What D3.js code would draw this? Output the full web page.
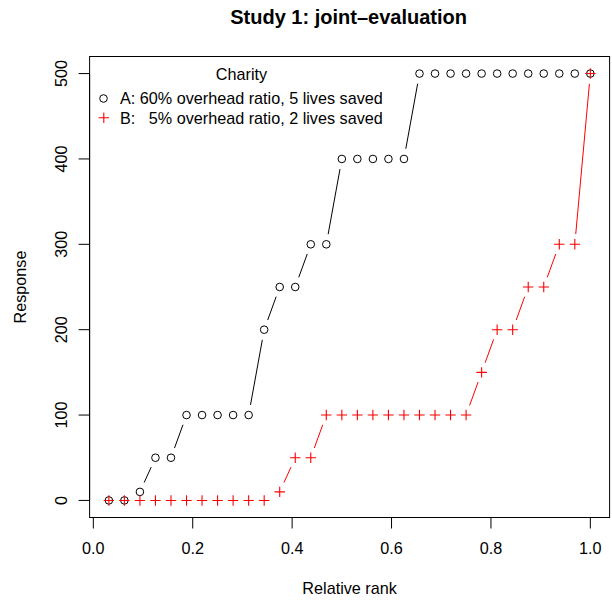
<!DOCTYPE html>
<html>
<head>
<meta charset="utf-8">
<script src="https://cdn.jsdelivr.net/npm/d3@7"></script>
<style>
  html, body { margin: 0; padding: 0; background: #fff; }
  text { font-family: "Liberation Sans", Arial, Helvetica, sans-serif; }
</style>
</head>
<body>
<svg id="chart" width="612" height="600"></svg>
<script>
// ---- data ----
const relativeRank = [0.03125, 0.0625, 0.09375, 0.125, 0.15625, 0.1875, 0.21875, 0.25,
  0.28125, 0.3125, 0.34375, 0.375, 0.40625, 0.4375, 0.46875, 0.5,
  0.53125, 0.5625, 0.59375, 0.625, 0.65625, 0.6875, 0.71875, 0.75,
  0.78125, 0.8125, 0.84375, 0.875, 0.90625, 0.9375, 0.96875, 1.0];
const responseA = [0, 0, 10, 50, 50, 100, 100, 100, 100, 100,
  200, 250, 250, 300, 300, 400, 400, 400, 400, 400,
  500, 500, 500, 500, 500, 500, 500, 500, 500, 500, 500, 500];
const responseB = [0, 0, 0, 0, 0, 0, 0, 0, 0, 0,
  0, 10, 50, 50, 100, 100, 100, 100, 100, 100,
  100, 100, 100, 100, 150, 200, 200, 250, 250, 300, 300, 500];
const xTicks = [0.0, 0.2, 0.4, 0.6, 0.8, 1.0];
const xTickLabels = ["0.0", "0.2", "0.4", "0.6", "0.8", "1.0"];
const yTicks = [0, 100, 200, 300, 400, 500];
const yTickLabels = ["0", "100", "200", "300", "400", "500"];
const legendTitle = "Charity";
const legendLabels = ["A: 60% overhead ratio, 5 lives saved", "B:   5% overhead ratio, 2 lives saved"];
const titleText = "Study 1: joint\u2013evaluation";
const xLabel = "Relative rank";
const yLabel = "Response";

// ---- layout ----
const svg = d3.select("#chart");
const L = 89.6, R = 609.6, T = 56.5, B = 517.5;
const x = d3.scaleLinear().domain([-0.0075, 1.03875]).range([L, R]);
const y = d3.scaleLinear().domain([-20, 520]).range([B, T]);
const fs = 16.2;

// title
svg.append("text").attr("x", (L + R) / 2 - 1).attr("y", 24)
  .attr("text-anchor", "middle").attr("font-size", 20).attr("font-weight", "bold")
  .text(titleText);

// box
svg.append("rect").attr("x", L).attr("y", T).attr("width", R - L).attr("height", B - T)
  .attr("fill", "none").attr("stroke", "#000").attr("stroke-width", 1);

// x axis
const xAxis = svg.append("g");
xAxis.append("line").attr("x1", x(0)).attr("x2", x(1)).attr("y1", B).attr("y2", B)
  .attr("stroke", "#000");
xTicks.forEach((t, i) => {
  xAxis.append("line").attr("x1", x(t)).attr("x2", x(t)).attr("y1", B).attr("y2", B + 11)
    .attr("stroke", "#000");
  xAxis.append("text").attr("x", x(t)).attr("y", 554).attr("text-anchor", "middle")
    .attr("font-size", fs).text(xTickLabels[i]);
});
svg.append("text").attr("x", (L + R) / 2).attr("y", 594).attr("text-anchor", "middle")
  .attr("font-size", fs).text(xLabel);

// y axis
const yAxis = svg.append("g");
yAxis.append("line").attr("x1", L).attr("x2", L).attr("y1", y(0)).attr("y2", y(500))
  .attr("stroke", "#000");
yTicks.forEach((t, i) => {
  yAxis.append("line").attr("x1", L).attr("x2", L - 11).attr("y1", y(t)).attr("y2", y(t))
    .attr("stroke", "#000");
  yAxis.append("text").attr("transform", `translate(66.5,${y(t)}) rotate(-90)`)
    .attr("text-anchor", "middle").attr("font-size", fs).text(yTickLabels[i]);
});
svg.append("text").attr("transform", `translate(25.5,${(T + B) / 2}) rotate(-90)`)
  .attr("text-anchor", "middle").attr("font-size", fs).text(yLabel);

// type="b" lines: segments shortened by a gap at each end
const gap = 10.3;
function drawGappedLines(vals, color) {
  const g = svg.append("g");
  for (let i = 0; i < vals.length - 1; i++) {
    const x0 = x(relativeRank[i]), y0 = y(vals[i]);
    const x1 = x(relativeRank[i + 1]), y1 = y(vals[i + 1]);
    const dx = x1 - x0, dy = y1 - y0, d = Math.hypot(dx, dy);
    if (d > 2 * gap) {
      g.append("line")
        .attr("x1", x0 + gap * dx / d).attr("y1", y0 + gap * dy / d)
        .attr("x2", x1 - gap * dx / d).attr("y2", y1 - gap * dy / d)
        .attr("stroke", color).attr("stroke-width", 1);
    }
  }
}
drawGappedLines(responseA, "#000");
drawGappedLines(responseB, "#ff0000");

// points
const r = 3.8, ph = 5.2;
svg.append("g").selectAll("circle").data(responseA).join("circle")
  .attr("cx", (d, i) => x(relativeRank[i])).attr("cy", d => y(d)).attr("r", r)
  .attr("fill", "none").attr("stroke", "#000").attr("stroke-width", 1);
svg.append("g").selectAll("path").data(responseB).join("path")
  .attr("d", (d, i) => {
    const cx = x(relativeRank[i]), cy = y(d);
    return `M${cx - ph},${cy}H${cx + ph}M${cx},${cy - ph}V${cy + ph}`;
  })
  .attr("fill", "none").attr("stroke", "#ff0000").attr("stroke-width", 1.1);

// legend
svg.append("text").attr("x", 241.5).attr("y", 79.5).attr("text-anchor", "middle")
  .attr("font-size", fs).text(legendTitle);
svg.append("circle").attr("cx", 103.5).attr("cy", 98.5).attr("r", r)
  .attr("fill", "none").attr("stroke", "#000");
svg.append("path")
  .attr("d", `M${103.8 - ph},117.8H${103.8 + ph}M103.8,${117.8 - ph}V${117.8 + ph}`)
  .attr("stroke", "#ff0000").attr("stroke-width", 1.1).attr("fill", "none");
legendLabels.forEach((lab, i) => {
  svg.append("text").attr("x", 120).attr("y", 104.3 + i * 19.2)
    .attr("font-size", fs).style("white-space", "pre").attr("xml:space", "preserve")
    .text(lab);
});
</script>
</body>
</html>
